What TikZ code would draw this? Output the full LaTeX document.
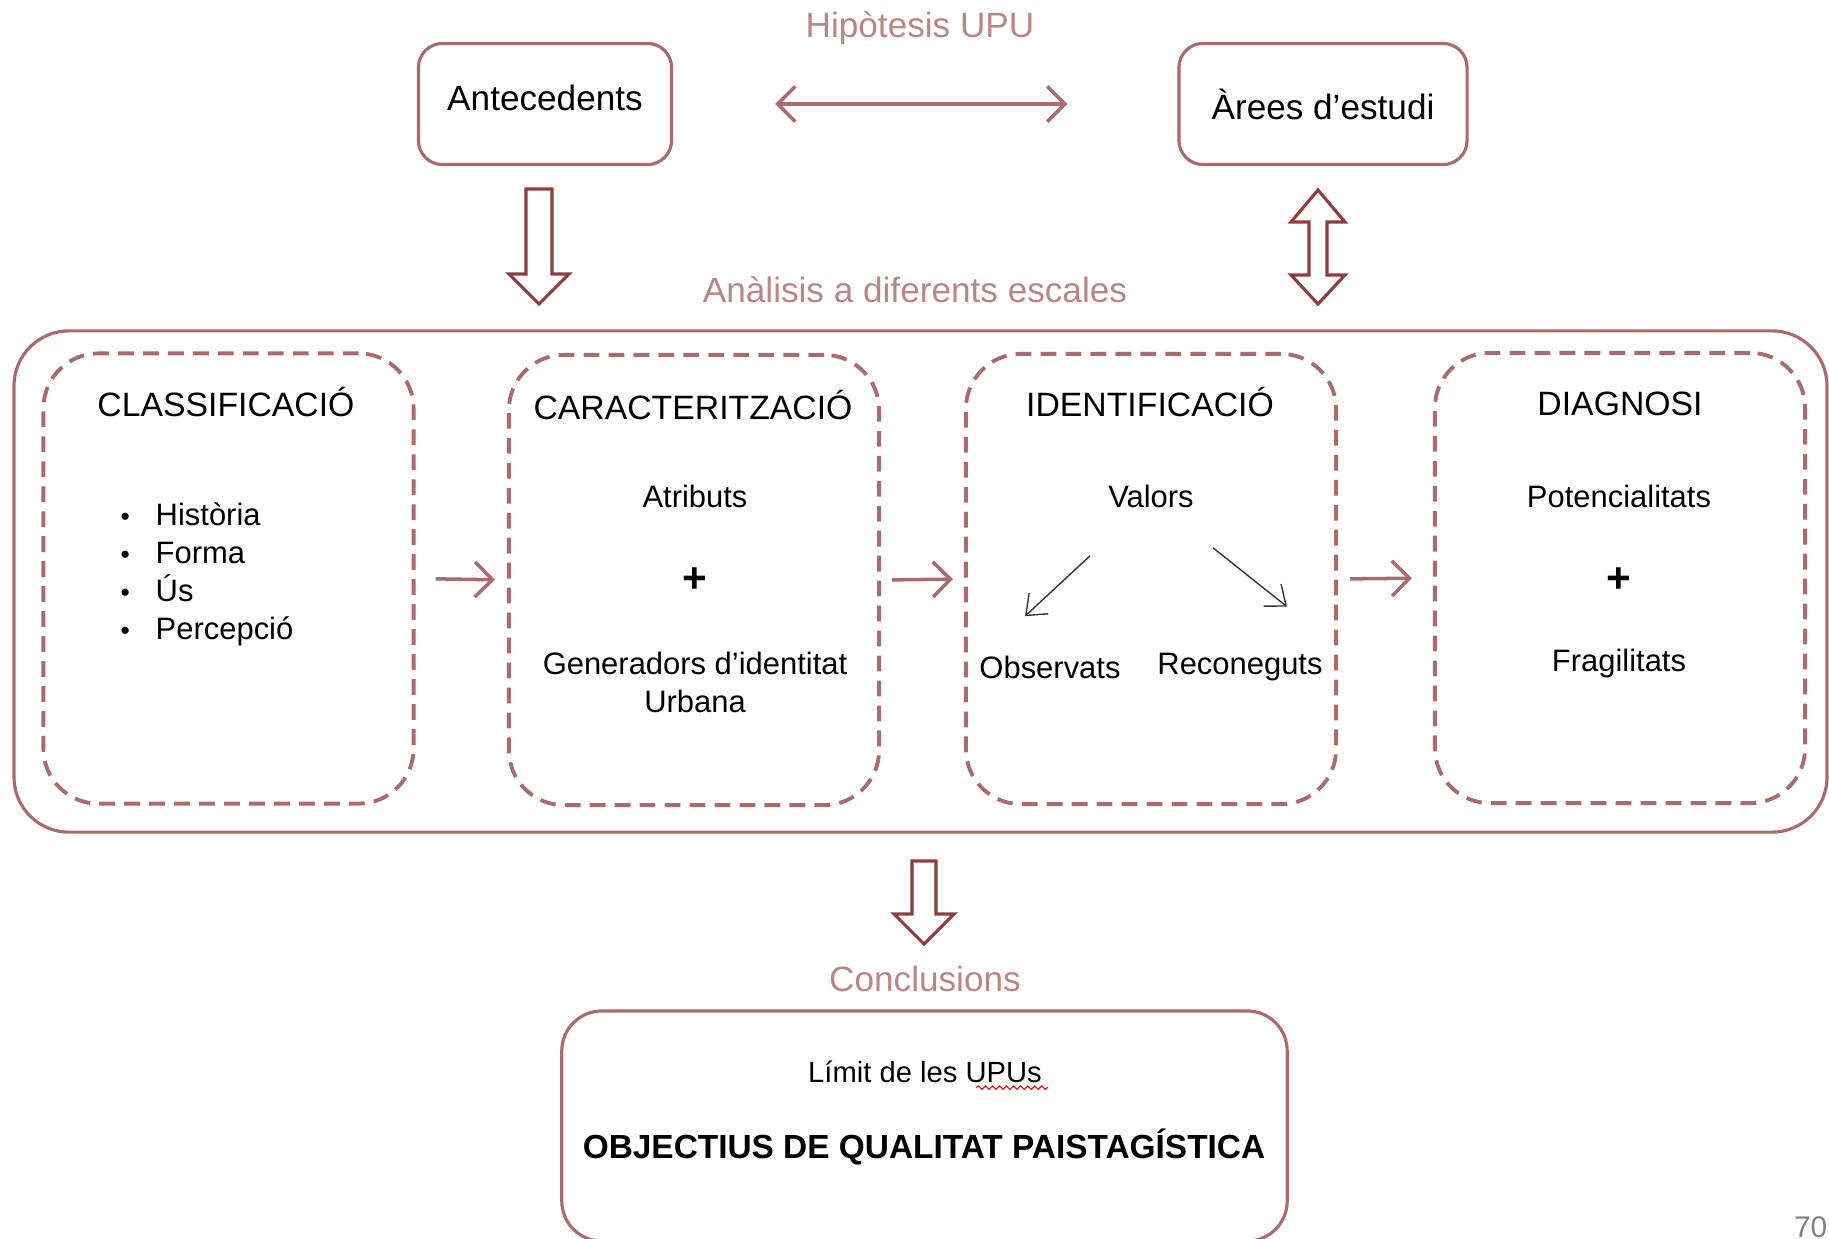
\documentclass[tikz,border=0pt]{standalone}
\usepackage{fontspec}
\setmainfont{Liberation Sans}
\usetikzlibrary{calc}
\usetikzlibrary{arrows.meta}
\usetikzlibrary{decorations.pathmorphing}
\definecolor{boxline}{HTML}{A96B6B}
\definecolor{arrowline}{HTML}{8E3E3E}
\definecolor{labeltext}{HTML}{B98686}
\definecolor{pagenum}{HTML}{808080}

\begin{document}
\begin{tikzpicture}[x=0.01cm,y=-0.01cm,
topbox/.style = {draw=boxline, line width=0.9pt, rounded corners=0.24cm,
  minimum width=2.53cm, minimum height=1.21cm, font=\fontsize{10}{12}\selectfont},
outerbox/.style = {draw=boxline, line width=0.9pt, rounded corners=0.55cm,
  minimum width=18.12cm, minimum height=5.01cm},
stage/.style = {draw=boxline, line width=1.1pt, dash pattern=on 4.5pt off 2.6pt,
  rounded corners=0.55cm, minimum width=3.7cm, minimum height=4.5cm},
hollow/.style = {draw=arrowline, line width=0.9pt, fill=white, line join=miter},
flow/.style = {draw=boxline, line width=1pt, -{Straight Barb[length=5pt,width=10pt]}},
thin/.style = {draw=black!80, line width=0.4pt, -{Straight Barb[length=5pt,width=8pt]}},
heading/.style = {text=labeltext, font=\fontsize{10}{12}\selectfont},
title/.style = {font=\fontsize{9.6}{11}\selectfont},
body/.style = {font=\fontsize{8.8}{10.8}\selectfont}
]
\useasboundingbox (0,0) rectangle (1829,1239);
\newcommand{\itm}{\makebox[0.35cm][l]{{\fontsize{7.5}{7.5}\selectfont\textbullet}}}

% top row
\node [heading] (hip) at (920,28) {Hipòtesis UPU};
\node [topbox, text depth=0.12cm] (ant) at (545,104) {Antecedents};
\node [topbox, minimum width=2.88cm] (are) at (1323,104) {Àrees d’estudi};
\draw [flow, {Straight Barb[length=5pt,width=10pt]}-{Straight Barb[length=5pt,width=10pt]},
  shorten <=1.02cm, shorten >=1.1cm] (ant.east) -- (are.west);

% block arrows
\coordinate (d1) at (539,189);
\draw [hollow] ($ (d1) + (-13,0) $) -- ($ (d1) + (13,0) $)
  -- ($ (d1) + (13,85) $) -- ($ (d1) + (30,85) $)
  -- ($ (d1) + (0,115) $) -- ($ (d1) + (-30,85) $)
  -- ($ (d1) + (-13,85) $) -- cycle;
\coordinate (d2) at (1318,190);
\draw [hollow] (d2) -- ($ (d2) + (27,32) $) -- ($ (d2) + (9,32) $)
  -- ($ (d2) + (9,85) $) -- ($ (d2) + (27,85) $)
  -- ($ (d2) + (0,114) $) -- ($ (d2) + (-27,85) $)
  -- ($ (d2) + (-9,85) $) -- ($ (d2) + (-9,32) $)
  -- ($ (d2) + (-27,32) $) -- cycle;

\node [heading] (ana) at (915,290) {Anàlisis a diferents escales};

% main frame
\node [outerbox] (frame) at (920.5,581.5) {};
\node [stage] (cls) at (228.5,578.5) {};
\node [stage] (car) at (694,580) {};
\node [stage] (idn) at (1151,579) {};
\node [stage] (dia) at (1620,578) {};

\node [title] (clst) at (226,402) {CLASSIFICACIÓ};
\node [body, anchor=west, align=left, inner sep=0] (list) at (120,574)
  {\itm Història\\ \itm Forma\\ \itm Ús\\ \itm Percepció};

\node [title] (cart) at (693,405) {CARACTERITZACIÓ};
\node [body] (atr) at (695,496) {Atributs};
\node [font=\fontsize{12}{14}\selectfont\bfseries] (plus1) at (695,580) {+};
\node [body, align=center] (gen) at (695,682) {Generadors d’identitat\\Urbana};

\node [title] (idnt) at (1150,402) {IDENTIFICACIÓ};
\node [body] (val) at (1151,496) {Valors};
\node [body] (obs) at (1050,667) {Observats};
\node [body] (rec) at (1240,667) {Reconeguts};
\draw [thin] ($ (val.south) + (-61,36) $) -- ($ (obs.north) + (-25,-27) $);
\draw [thin] ($ (val.south) + (62,28) $) -- ($ (rec.north) + (47,-34) $);

\node [title] (diat) at (1620,404) {DIAGNOSI};
\node [body] (pot) at (1619,496) {Potencialitats};
\node [font=\fontsize{12}{14}\selectfont\bfseries] (plus2) at (1619,580) {+};
\node [body] (fra) at (1619,663) {Fragilitats};

\draw [flow, shorten <=0.2cm, shorten >=0.12cm] (cls.east) -- (car.west);
\draw [flow, shorten <=0.11cm, shorten >=0.11cm] (car.east) -- (idn.west);
\draw [flow, shorten <=0.12cm, shorten >=0.21cm] (idn.east) -- (dia.west);

% conclusions
\coordinate (d3) at (924,861);
\draw [hollow] ($ (d3) + (-12,0) $) -- ($ (d3) + (12,0) $)
  -- ($ (d3) + (12,53) $) -- ($ (d3) + (30,53) $)
  -- ($ (d3) + (0,83) $) -- ($ (d3) + (-30,53) $)
  -- ($ (d3) + (-12,53) $) -- cycle;
\node [heading] (con) at (925,979) {Conclusions};
\node [draw=boxline, line width=0.9pt, rounded corners=0.4cm,
  minimum width=7.25cm, minimum height=2.3cm] (res) at (924.5,1126) {};
\node [font=\fontsize{8.3}{10}\selectfont] (lim) at (925,1072) {Límit de les UPUs};
\draw [red, line width=0.3pt, decorate,
  decoration={snake, amplitude=0.5pt, segment length=2pt}]
  ($ (lim.base east) + (-78,5) $) -- ($ (lim.base east) + (-6,5) $);
\node [font=\fontsize{9.5}{11}\selectfont\bfseries] (obj) at (924,1147)
  {OBJECTIUS DE QUALITAT PAISTAGÍSTICA};

\node [text=pagenum, font=\fontsize{8.5}{10}\selectfont, anchor=north east,
  inner sep=0] (pg) at (1828,1216) {70};

\end{tikzpicture}
\end{document}
